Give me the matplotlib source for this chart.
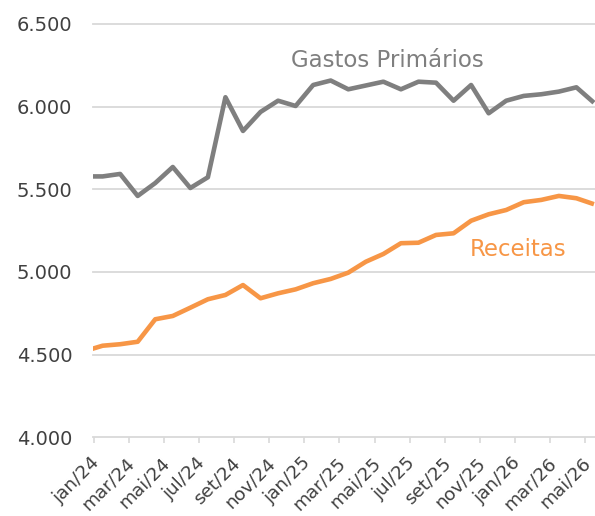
"""Gastos primários vs receitas, série mensal."""

import matplotlib
matplotlib.use("Agg")
import matplotlib.pyplot as plt
from matplotlib.ticker import FixedLocator, FuncFormatter

# meses: dez/23 (fica parcialmente fora do eixo) até mai/26
months = [
    "dez/23", "jan/24", "fev/24", "mar/24", "abr/24", "mai/24", "jun/24", "jul/24",
    "ago/24", "set/24", "out/24", "nov/24", "dez/24", "jan/25", "fev/25", "mar/25",
    "abr/25", "mai/25", "jun/25", "jul/25", "ago/25", "set/25", "out/25", "nov/25",
    "dez/25", "jan/26", "fev/26", "mar/26", "abr/26", "mai/26",
]
gastos = [
    5578, 5578, 5593, 5460, 5538, 5635, 5508, 5573, 6057, 5853, 5968, 6036,
    6004, 6131, 6158, 6105, 6128, 6151, 6105, 6151, 6145, 6036, 6131, 5960,
    6036, 6065, 6075, 6091, 6117, 6024,
]
receitas = [
    4522, 4554, 4563, 4578, 4714, 4734, 4784, 4835, 4861, 4921, 4841, 4871,
    4895, 4932, 4958, 4996, 5062, 5109, 5174, 5177, 5224, 5234, 5310, 5349,
    5375, 5422, 5436, 5460, 5446, 5410,
]
y_ticks = [4000, 4500, 5000, 5500, 6000, 6500]

GRAY = "#7f7f7f"
ORANGE = "#f79646"
GRID = "#d9d9d9"
TEXT = "#404040"

plt.rcParams["font.family"] = ["DejaVu Sans"]

x = list(range(-1, len(months) - 1))

fig = plt.figure(figsize=(5.95, 5.16), dpi=100)
ax = fig.add_axes([0.1568, 0.1525, 0.8432, 0.801])

ax.plot(x, gastos, color=GRAY, lw=3.3, solid_joinstyle="round", solid_capstyle="butt", zorder=3)
ax.plot(x, receitas, color=ORANGE, lw=3.3, solid_joinstyle="round", solid_capstyle="butt", zorder=3)

ax.set_xlim(-0.53, 28.06)
ax.set_ylim(4000, 6500)

for v in y_ticks:
    ax.axhline(v, color=GRID, lw=1.3, zorder=1, clip_on=False)

for s in ax.spines.values():
    s.set_visible(False)

ax.yaxis.set_major_locator(FixedLocator(y_ticks))
ax.yaxis.set_major_formatter(FuncFormatter(lambda v, p: f"{v:,.0f}".replace(",", ".")))
ax.tick_params(axis="y", length=0, pad=15, labelsize=14, labelcolor=TEXT)

# rótulos a cada dois meses, marcas entre categorias
label_pos = x[1::2]
ax.set_xticks([p - 0.32 for p in label_pos])
ax.set_xticklabels(months[1::2])
ax.set_xticks([p - 0.5 for p in label_pos], minor=True)
ax.tick_params(axis="x", which="major", length=0, pad=16.5, labelsize=13.2, labelcolor=TEXT)
ax.tick_params(axis="x", which="minor", length=4, width=1.2, color=GRID)
for lbl in ax.get_xticklabels():
    lbl.set_rotation(45)
    lbl.set_ha("right")
    lbl.set_va("center")
    lbl.set_rotation_mode("anchor")

ax.text(16.24, 6240, "Gastos Primários", color=GRAY, fontsize=16.5, ha="center", va="baseline")
ax.text(23.65, 5097, "Receitas", color=ORANGE, fontsize=16.5, ha="center", va="baseline")

fig.savefig("out.png", dpi=100)
